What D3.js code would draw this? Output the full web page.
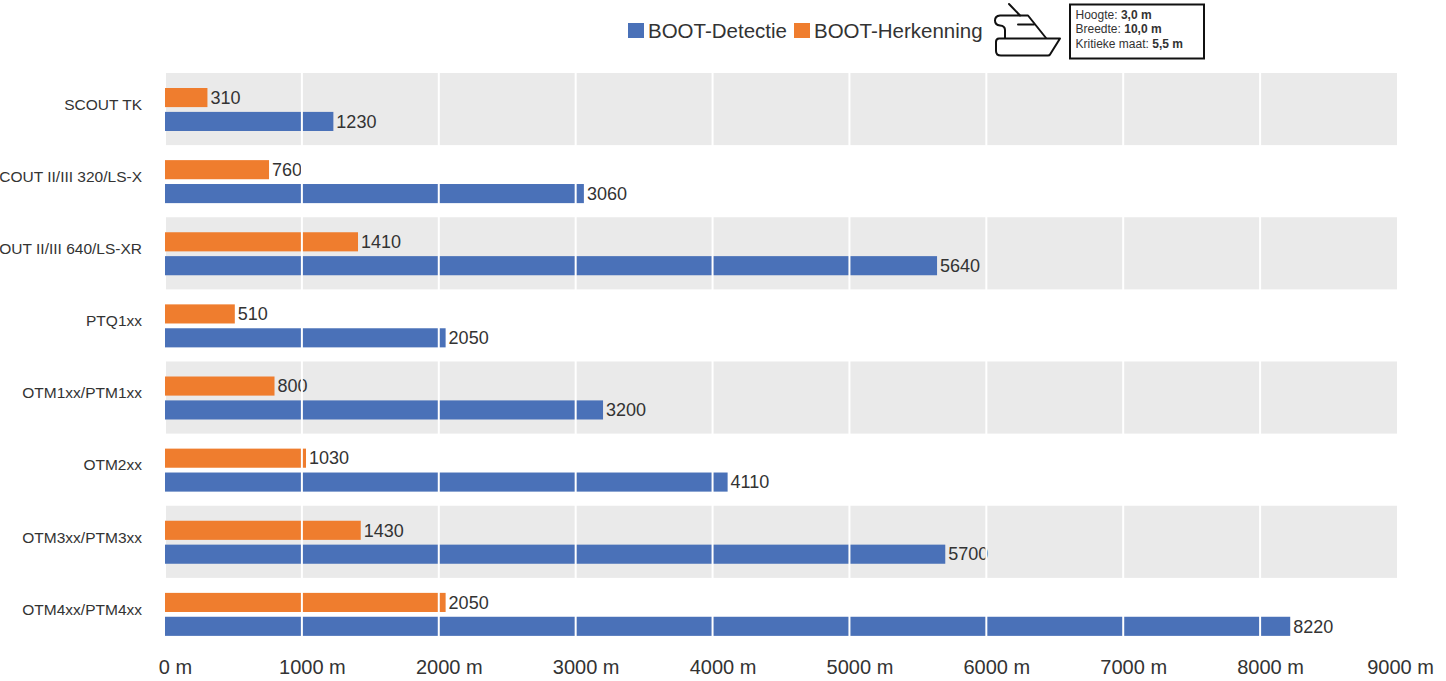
<!DOCTYPE html>
<html>
<head>
<meta charset="utf-8">
<script src="https://cdnjs.cloudflare.com/ajax/libs/d3/7.8.5/d3.min.js"></script>
<style>
	html, body { margin: 0; padding: 0; background: #fff; }
	svg { display: block; }
	text { font-family: "Liberation Sans Narrow", "Liberation Sans", sans-serif; fill: #333; }
</style>
</head>
<body>
<svg id="graph" width="1446" height="681"></svg>
<script>
var categories = ["SCOUT TK", "SCOUT II/III 320/LS-X", "SCOUT II/III 640/LS-XR", "PTQ1xx",
				  "OTM1xx/PTM1xx", "OTM2xx", "OTM3xx/PTM3xx", "OTM4xx/PTM4xx"];
var herkenning = [310, 760, 1410, 510, 800, 1030, 1430, 2050];
var detectie = [1230, 3060, 5640, 2050, 3200, 4110, 5700, 8220];
var xTicks = [0, 1000, 2000, 3000, 4000, 5000, 6000, 7000, 8000, 9000];
var seriesNames = ["BOOT-Herkenning", "BOOT-Detectie"];
var boatInfo = [["Hoogte: ", "3,0 m"], ["Breedte: ", "10,0 m"], ["Kritieke maat: ", "5,5 m"]];

var blue = "#4a71b8", orange = "#ef7d2e", band = "#eaeaea";

var svg = d3.select("#graph");

var xScale = d3.scaleLinear().domain([0, 9000]).range([165, 1397]);
var yScale = d3.scaleBand().domain(categories).range([73, 650]);
// the two bars inside one row
var barScale = d3.scaleBand().domain(seriesNames).range([15, 58]).paddingInner(0.2).paddingOuter(0);

// alternating gray rows
svg.append("g").selectAll("rect")
	.data(categories.filter(function(d, i) { return i % 2 == 0; }))
	.enter().append("rect")
	.attr("x", xScale(0) + 1)
	.attr("y", function(d) { return yScale(d); })
	.attr("width", xScale(9000) - xScale(0) - 1)
	.attr("height", yScale.bandwidth())
	.attr("fill", band);

function drawBars(values, name, color) {
	var g = svg.append("g");
	g.selectAll("rect")
		.data(values)
		.enter().append("rect")
		.attr("x", xScale(0))
		.attr("y", function(d, i) { return yScale(categories[i]) + barScale(name); })
		.attr("width", function(d) { return xScale(d) - xScale(0); })
		.attr("height", barScale.bandwidth())
		.attr("fill", color);
	g.selectAll("text")
		.data(values)
		.enter().append("text")
		.attr("x", function(d) { return xScale(d) + 3; })
		.attr("y", function(d, i) { return yScale(categories[i]) + barScale(name) + barScale.bandwidth() / 2; })
		.attr("dy", "0.35em")
		.attr("font-size", "18px")
		.text(function(d) { return d; });
}
drawBars(herkenning, "BOOT-Herkenning", orange);
drawBars(detectie, "BOOT-Detectie", blue);

// white grid goes over the bars
svg.append("g").selectAll("line")
	.data(xTicks.slice(1, -1))
	.enter().append("line")
	.attr("x1", function(d) { return xScale(d); })
	.attr("x2", function(d) { return xScale(d); })
	.attr("y1", 73)
	.attr("y2", 650)
	.attr("stroke", "#fff")
	.attr("stroke-width", 2);

// x axis
var xAxis = svg.append("g")
	.attr("transform", "translate(0,650)")
	.call(d3.axisBottom(xScale).tickValues(xTicks).tickSize(0).tickPadding(10)
		.tickFormat(function(d) { return d + " m"; }));
xAxis.select(".domain").remove();
xAxis.selectAll("text")
	.attr("font-size", "20px")
	.attr("font-family", null)
	.attr("dx", function(d) { return d == 9000 ? 3 : 10; });

// y axis
var yAxis = svg.append("g")
	.attr("transform", "translate(142,0)")
	.call(d3.axisLeft(yScale).tickSize(0).tickPadding(0));
yAxis.select(".domain").remove();
yAxis.selectAll("text")
	.attr("font-size", "15.5px")
	.attr("dy", "0.05em");

// legend
var legend = svg.append("g").selectAll("g")
	.data([["BOOT-Detectie", blue, 628], ["BOOT-Herkenning", orange, 794]])
	.enter().append("g")
	.attr("transform", function(d) { return "translate(" + d[2] + ",23)"; });
legend.append("rect")
	.attr("width", 16)
	.attr("height", 15)
	.attr("fill", function(d) { return d[1]; });
legend.append("text")
	.attr("x", 20)
	.attr("y", 15)
	.attr("font-size", "20.5px")
	.text(function(d) { return d[0]; });

// boat icon
var boat = svg.append("g")
	.attr("fill", "none")
	.attr("stroke", "#111")
	.attr("stroke-width", 2)
	.attr("stroke-linejoin", "round")
	.attr("stroke-linecap", "round");
boat.append("path").attr("d", "M999 38.5H1060L1050 54.5Q1049.5 55.5 1048 55.5H1001Q996 55.5 996 51V42Q996 38.5 999 38.5Z");
boat.append("path").attr("d", "M1009 4L1020 15.5H1000Q995 16 995 20.5Q995 25 1000 25.5Q1005 26 1005 30V38");
boat.append("path").attr("d", "M1020 15.5H1028L1046 38");
boat.append("path").attr("d", "M1018 24.5H1034");

// info box
svg.append("rect")
	.attr("x", 1070)
	.attr("y", 4.5)
	.attr("width", 134)
	.attr("height", 54)
	.attr("fill", "#fff")
	.attr("stroke", "#111")
	.attr("stroke-width", 2);
var info = svg.append("g").selectAll("text")
	.data(boatInfo)
	.enter().append("text")
	.attr("x", 1075.5)
	.attr("y", function(d, i) { return 19 + i * 14.3; })
	.attr("font-size", "12px");
info.append("tspan").text(function(d) { return d[0]; });
info.append("tspan").attr("font-weight", "bold").text(function(d) { return d[1]; });
</script>
</body>
</html>
